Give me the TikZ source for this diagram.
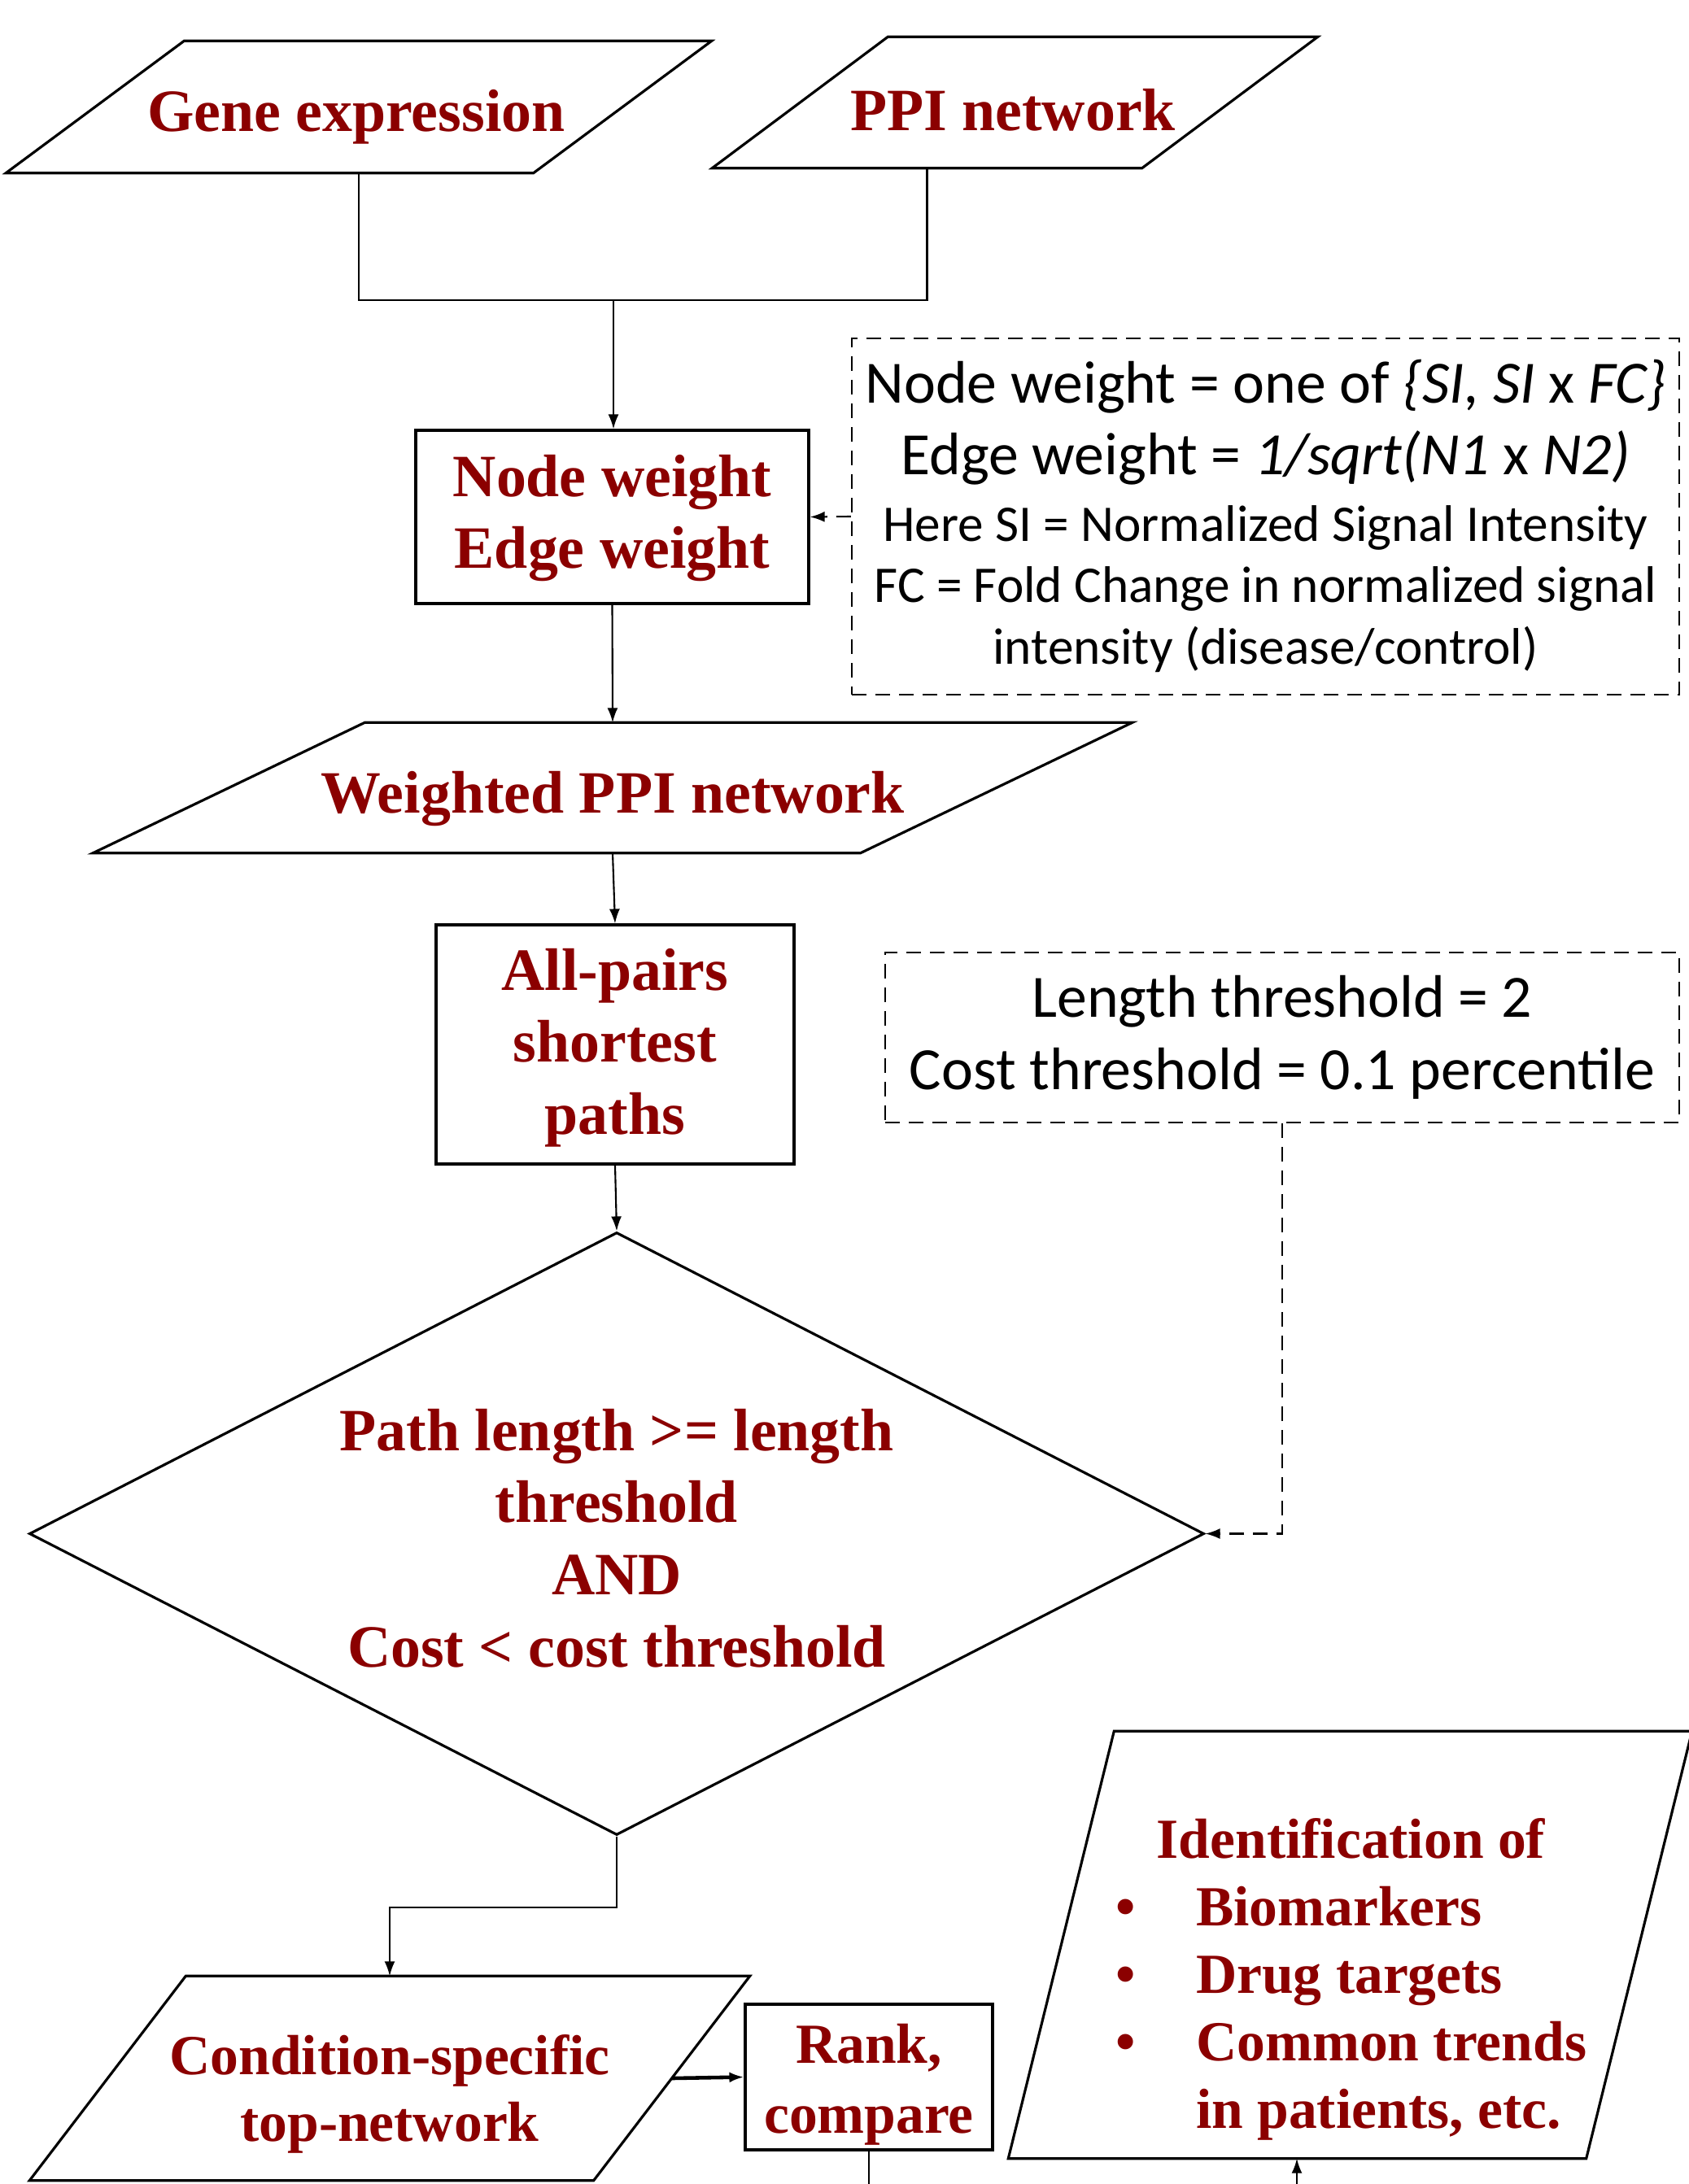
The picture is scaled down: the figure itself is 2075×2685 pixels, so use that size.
\documentclass[tikz,border=0pt]{standalone}
\usepackage{fontspec}
\setmainfont{Liberation Serif}
\newfontfamily\notefont{Carlito}
\usetikzlibrary{calc,arrows.meta,shapes.geometric}
\definecolor{flowred}{RGB}{139,0,0}

% slanted input/output box drawn around a (borderless) rectangle node
\newcommand\drawpara[2]{%
  \draw[shapeline] ($(#1.north west)+(#2,0)$) -- ($(#1.north east)+(#2,0)$)
    -- ($(#1.south east)+(-#2,0)$) -- ($(#1.south west)+(-#2,0)$) -- cycle;}

\begin{document}
\begin{tikzpicture}[x=0.1mm,y=-0.1mm,
  shapeline/.style={draw=black,line width=0.9pt},
  ptext/.style={inner sep=0pt,align=center,text=flowred,
    font=\bfseries\fontsize{21}{25.2}\selectfont},
  btext/.style={ptext,font=\bfseries\fontsize{19.8}{23.3}\selectfont},
  frame/.style={inner sep=0pt,rectangle},
  box/.style={frame,shapeline},
  notebox/.style={draw=black,line width=0.6pt,dash pattern=on 1.8mm off 1.1mm,
    inner sep=0pt,align=center,font=\notefont\fontsize{21}{25.2}\selectfont},
  notetext/.style={inner sep=0pt,align=center,font=\notefont\fontsize{21}{25.2}\selectfont},
  notesmall/.style={inner sep=0pt,align=center,font=\notefont\fontsize{18}{21.5}\selectfont},
  link/.style={line width=0.6pt},
  arr/.style={link,-{Latex[length=1.8mm,width=1.3mm]}},
  dasharr/.style={arr,dash pattern=on 1.8mm off 1.1mm}
]
\fill[white] (0,0) rectangle (2075,2685);
\useasboundingbox (0,0) rectangle (2075,2685);

% inputs
\node[frame,minimum width=64.7mm,minimum height=16.1mm] (gene) at (441,131.5) {};
\drawpara{gene}{109.5}
\node[ptext] (genetext) at (438,143.5) {Gene expression};
\node[frame,minimum width=52.7mm,minimum height=16mm] (ppi) at (1247.5,126) {};
\drawpara{ppi}{108}
\node[ptext] (ppitext) at (1245,135) {PPI network};

% weighting
\node[box,minimum width=48.3mm,minimum height=21.3mm] (nodew) at (752.5,635.5) {};
\node[ptext] (nodewtext) at (752.5,637) {Node weight\\Edge weight};
\node[notebox,minimum width=101.7mm,minimum height=43.8mm] (note1) at (1555.5,635) {};
\node[notetext] (note1a) at (1555.5,519) {Node weight = one of \textit{\{SI, SI} x \textit{FC\}}\\
  Edge weight = \textit{1/sqrt(N1} x \textit{N2)}};
\node[notesmall] (note1b) at (1555.5,724) {Here SI = Normalized Signal Intensity\\
  FC = Fold Change in normalized signal\\intensity (disease/control)};

\node[frame,minimum width=94.2mm,minimum height=15.9mm] (wppi) at (753,968.5) {};
\drawpara{wppi}{167}
\node[ptext] (wppitext) at (753,982.5) {Weighted PPI network};

\node[box,minimum width=44mm,minimum height=29.4mm] (allp) at (756,1284) {};
\node[ptext] (allptext) at (756,1288) {All-pairs\\shortest\\paths};
\node[notebox,minimum width=97.6mm,minimum height=20.9mm] (thr) at (1576,1275.5)
  {Length threshold = 2\\Cost threshold = 0.1 percentile};

% decision
\node[shapeline,diamond,inner sep=0pt,minimum width=144.4mm,minimum height=74.1mm] (dia) at (758,1885.5) {};
\node[ptext] (diatext) at (758,1891) {Path length >= length\\threshold\\AND\\Cost < cost threshold};

% outputs
\node[frame,minimum width=69.2mm,minimum height=25mm] (cond) at (479,2555) {};
\drawpara{cond}{96}
\node[btext] (condtext) at (479,2574) {Condition-specific\\top-network};
\node[box,minimum width=30.4mm,minimum height=17.9mm] (rank) at (1068,2553.5) {};
\node[btext,font=\bfseries\fontsize{19.8}{24.5}\selectfont] (ranktext) at (1068,2563) {Rank,\\compare};
\node[frame,minimum width=70.9mm,minimum height=52.4mm] (ident) at (1659.5,2391) {};
\drawpara{ident}{65}
\node[btext,font=\bfseries\fontsize{19.8}{23.6}\selectfont,anchor=west] (identtext) at (1371,2434) {%
  \begin{tabular}{@{}l@{\hspace{7.4mm}}l@{}}
  \multicolumn{2}{@{\hspace{5.0mm}}l@{}}{Identification of}\\
  \textbullet & Biomarkers\\
  \textbullet & Drug targets\\
  \textbullet & Common trends\\
   & in patients, etc.
  \end{tabular}};

% connectors
\coordinate (merge) at (754,369);
\draw[link] (gene.south) |- (merge);
\draw[link] ($(ppi.south)+(-108,0)$) |- (merge);
\draw[arr] (merge) -- (merge |- nodew.north);
\draw[dasharr] (note1.west) -- (nodew.east);
\draw[arr] (nodew.south) -- (wppi.north);
\draw[arr] (wppi.south) -- (allp.north);
\draw[arr] (allp.south) -- (dia.north);
\draw[dasharr] (thr.south) |- (dia.east);
\draw[arr] (dia.south) -- ++(0,87) -| (cond.north);
\draw[arr,line width=1.3pt] (cond.east) -- (rank.west);
\coordinate (rankout) at (1068,2685);
\draw[link] (rank.south) -- (rankout);
\coordinate (identin) at (1594,2685);
\draw[arr] (identin) -- (identin |- ident.south);
\end{tikzpicture}
\end{document}
